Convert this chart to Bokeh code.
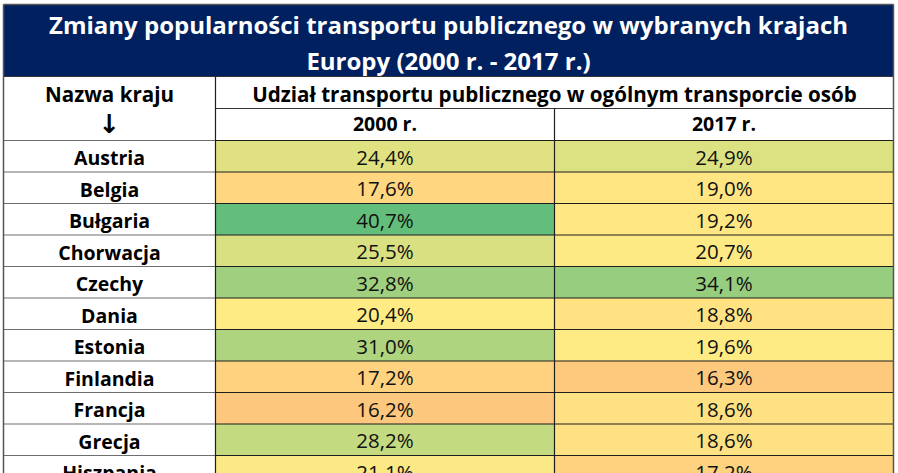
from bokeh.plotting import figure
from bokeh.models import Range1d, ColumnDataSource
from bokeh.core.properties import value
from bokeh.embed import file_html
from bokeh.resources import INLINE

# ---- data ----
countries = ["Austria", "Belgia", "Bułgaria", "Chorwacja", "Czechy", "Dania",
             "Estonia", "Finlandia", "Francja", "Grecja", "Hiszpania"]
share_2000 = [24.4, 17.6, 40.7, 25.5, 32.8, 20.4, 31.0, 17.2, 16.2, 28.2, 21.1]
share_2017 = [24.9, 19.0, 19.2, 20.7, 34.1, 18.8, 19.6, 16.3, 18.6, 18.6, 17.2]
title_lines = ["Zmiany popularności transportu publicznego w wybranych krajach",
               "Europy (2000 r. - 2017 r.)"]
name_header = "Nazwa kraju"
arrow_label = "↓"
group_header = "Udział transportu publicznego w ogólnym transporcie osób"
year_labels = ["2000 r.", "2017 r."]

# ---- layout (table units = pixels) ----
W, H = 898, 473
X0, X1, X2, X3 = 3, 215, 554, 893
Y_TOP, Y_TITLE, Y_H1, Y_H2 = 4, 76, 108, 140
ROW_H = 31.5
Y_END = 490

NAVY = "#002060"
FONT = "Open Sans"

# colour scale (red - yellow - green) anchors
ANCH = [(7.4, (0xF8, 0x69, 0x6B)), (19.5, (0xFF, 0xEB, 0x84)),
        (20.4, (0xFF, 0xEB, 0x84)), (40.7, (0x63, 0xBE, 0x7B))]


def scale_color(v):
    if v <= ANCH[0][0]:
        c = ANCH[0][1]
    elif v >= ANCH[-1][0]:
        c = ANCH[-1][1]
    else:
        for (a, ca), (b, cb) in zip(ANCH[:-1], ANCH[1:]):
            if a <= v <= b:
                t = (v - a) / (b - a)
                c = tuple(round(ca[k] + t * (cb[k] - ca[k])) for k in range(3))
                break
    return "#%02x%02x%02x" % c


def fmt(v):
    return ("%.1f%%" % v).replace(".", ",")


p = figure(width=W, height=H, x_range=Range1d(0, W), y_range=Range1d(H, 0),
           output_backend="svg", toolbar_location=None, min_border=0,
           background_fill_color="white", border_fill_color="white", outline_line_color=None)
p.axis.visible = False
p.grid.visible = False

n = len(countries)
row_top = [Y_H2 + ROW_H * i for i in range(n)]
row_bot = [t + ROW_H for t in row_top]

# title band
p.quad(left=[X0], right=[X3], top=[Y_TOP], bottom=[Y_TITLE], fill_color=NAVY, line_color=None)

# coloured cells
cells = ColumnDataSource(dict(
    left=[X1] * n + [X2] * n,
    right=[X2] * n + [X3] * n,
    top=row_top + row_top,
    bottom=row_bot + row_bot,
    color=[scale_color(v) for v in share_2000] + [scale_color(v) for v in share_2017],
))
p.quad(left="left", right="right", top="top", bottom="bottom", fill_color="color",
       line_color=None, source=cells)

# grid lines
p.segment(x0=[X0] * (n + 1), x1=[X1] * (n + 1), y0=[Y_H2] + row_bot, y1=[Y_H2] + row_bot,
          line_color="#6e6e6e", line_width=1.2)
p.segment(x0=[X1] * (n + 1), x1=[X3] * (n + 1), y0=[Y_H2] + row_bot, y1=[Y_H2] + row_bot,
          line_color="#1e1e1e", line_width=1.2)
p.segment(x0=[X0, X1], x1=[X3, X3], y0=[Y_TITLE, Y_H1], y1=[Y_TITLE, Y_H1],
          line_color="#333333", line_width=1.2)
p.segment(x0=[X1, X2], x1=[X1, X2], y0=[Y_TITLE, Y_H1], y1=[Y_END, Y_END],
          line_color="#1e1e1e", line_width=1.2)
p.segment(x0=[X0, X3, X0], x1=[X0, X3, X3], y0=[Y_TOP, Y_TOP, Y_TOP], y1=[Y_END, Y_END, Y_TOP],
          line_color="#555555", line_width=1.5)

# title
p.text(x=[(X0 + X3) / 2] * 2, y=[24, 60], text=title_lines, text_color="white",
       text_font=value(FONT), text_font_style="bold", text_font_size="24px",
       text_align="center", text_baseline="middle")

# headers
p.text(x=[(X0 + X1) / 2, (X1 + X3) / 2], y=[93, 93], text=[name_header, group_header],
       text_color="black", text_font=value(FONT), text_font_style="bold",
       text_font_size="20.6px", text_align="center", text_baseline="middle")
p.text(x=[(X0 + X1) / 2], y=[123], text=[arrow_label], text_color="black",
       text_font=value("DejaVu Sans"), text_font_style="bold", text_font_size="26px",
       text_align="center", text_baseline="middle")
p.text(x=[(X1 + X2) / 2, (X2 + X3) / 2], y=[123, 123], text=year_labels,
       text_color="black", text_font=value(FONT), text_font_style="bold",
       text_font_size="19.5px", text_align="center", text_baseline="middle")

# row texts
p.text(x=[(X0 + X1) / 2] * n, y=[t + 17 for t in row_top], text=countries,
       text_color="black", text_font=value(FONT), text_font_style="bold",
       text_font_size="19.5px", text_align="center", text_baseline="middle")
mid = [t + 16 for t in row_top]
p.text(x=[(X1 + X2) / 2] * n + [(X2 + X3) / 2] * n, y=mid + mid,
       text=[fmt(v) for v in share_2000] + [fmt(v) for v in share_2017],
       text_color="#111111", text_font=value(FONT), text_font_size="20.5px",
       text_align="center", text_baseline="middle")

open("out.html", "w").write(file_html(p, INLINE))
